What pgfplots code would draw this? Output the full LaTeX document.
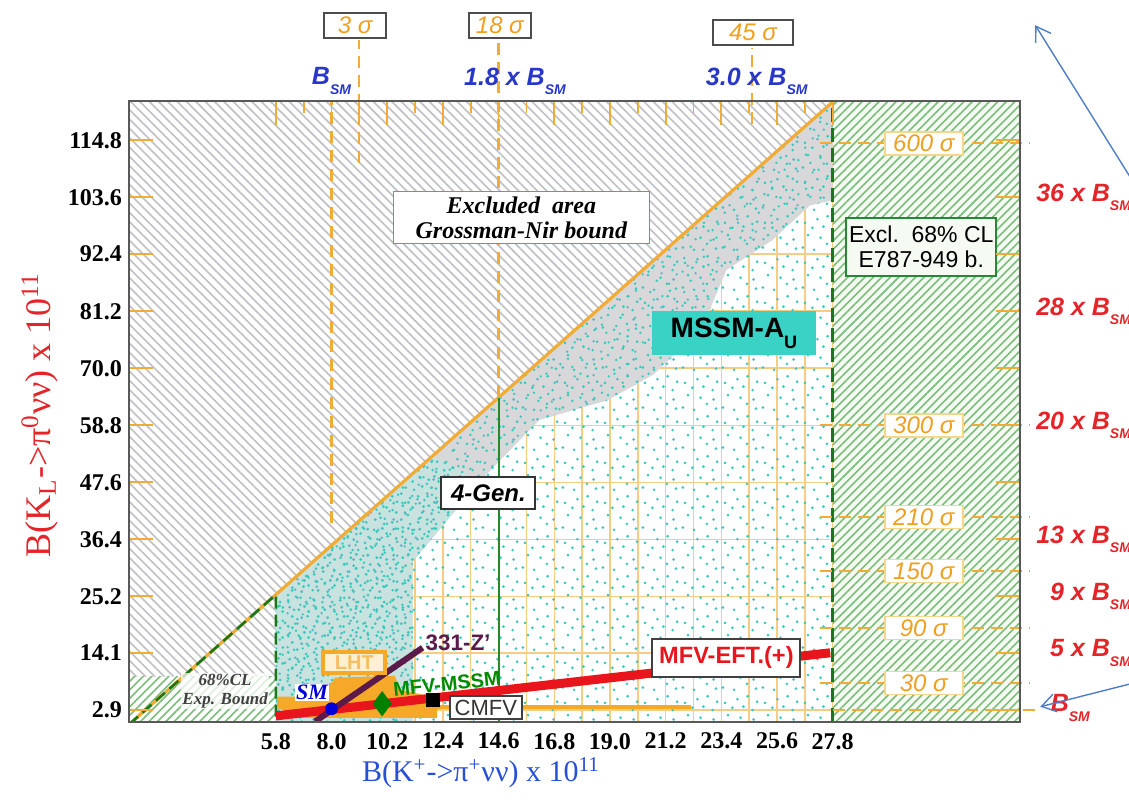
\documentclass[border=0pt]{standalone}
\usepackage{fontspec}
\setmainfont{Liberation Serif}
\setsansfont{Liberation Sans}
\usepackage{pgfplots}
\pgfplotsset{compat=1.18}
\usetikzlibrary{patterns.meta,arrows.meta}

\definecolor{cyandot}{RGB}{62,199,189}
\definecolor{gband}{RGB}{216,216,218}
\definecolor{densebg}{RGB}{200,226,224}
\definecolor{hatchgray}{RGB}{192,192,197}
\definecolor{hatchgreen}{RGB}{122,190,122}
\definecolor{greenbg}{RGB}{245,250,243}
\definecolor{dgreen}{RGB}{25,120,25}
\definecolor{gengreen}{RGB}{40,135,40}
\definecolor{gridorange}{RGB}{248,205,130}
\definecolor{lineorange}{RGB}{240,172,55}
\definecolor{sigorange}{RGB}{240,160,30}
\definecolor{sigborder}{RGB}{245,215,140}
\definecolor{lhtorange}{RGB}{246,168,40}
\definecolor{mfvred}{RGB}{232,22,28}
\definecolor{zpurple}{RGB}{92,26,74}
\definecolor{labred}{RGB}{228,36,40}
\definecolor{labblue}{RGB}{40,80,215}
\definecolor{topblue}{RGB}{40,55,200}
\definecolor{msscyan}{RGB}{58,210,196}
\definecolor{arrowblue}{RGB}{80,125,200}
\definecolor{gnborder}{RGB}{222,100,110}
\definecolor{exclgreen}{RGB}{40,135,55}

\newcommand{\sbs}[2][7]{\raisebox{-0.38em}{\fontsize{#1}{#1}\selectfont #2}}

\tikzdeclarepattern{name=dotsA,type=uncolored,
  bounding box={(0pt,0pt) and (20pt,20pt)},tile size={(20pt,20pt)},
  code={\foreach \x/\y in {1.5/2.3,7.2/1.1,13.8/4.2,18.4/1.7,4.1/8.6,10.5/7.3,16.7/11.2,2.6/14.9,8.9/16.8,14.1/18.3,19.0/15.5,6.3/12.4,12.0/13.0,17.2/6.4}{\fill (\x pt,\y pt) circle (0.75pt);}}}
\tikzdeclarepattern{name=dotsB,type=uncolored,
  bounding box={(0pt,0pt) and (17pt,17pt)},tile size={(17pt,17pt)},
  code={\foreach \x/\y in {2.2/5.1,8.4/3.0,14.6/1.6,5.5/10.9,11.9/9.4,15.8/14.2,1.3/15.6,8.0/14.8,12.3/5.8,4.0/1.2}{\fill (\x pt,\y pt) circle (0.7pt);}}}
\tikzdeclarepattern{name=dotsC,type=uncolored,
  bounding box={(0pt,0pt) and (13pt,13pt)},tile size={(13pt,13pt)},
  code={\foreach \x/\y in {1.1/1.9,5.8/3.3,10.4/1.0,3.2/7.0,8.1/6.4,11.7/9.6,1.9/11.8,6.6/10.5,9.5/12.2}{\fill (\x pt,\y pt) circle (0.8pt);}}}

\tikzset{
  rlab/.style={anchor=east,text=labred,font=\sffamily\bfseries\itshape\fontsize{12.5}{14}\selectfont,inner sep=0pt},
  tlab/.style={text=topblue,font=\sffamily\bfseries\itshape\fontsize{12.5}{14}\selectfont,inner sep=0pt},
  sigbox/.style={draw=sigborder,fill=white,text=sigorange,font=\sffamily\itshape\fontsize{12}{13}\selectfont,minimum width=39pt,minimum height=11.5pt,inner sep=1pt,line width=0.8pt},
  topsig/.style={draw=black!70,fill=white,text=sigorange,font=\sffamily\itshape\fontsize{12}{13}\selectfont,minimum height=12.5pt,inner sep=1pt,line width=0.9pt},
  sigdash/.style={lineorange,line width=1.1pt,dash pattern=on 6pt off 3.5pt},
}

\begin{document}
\begin{tikzpicture}
\useasboundingbox (-64.5pt,-44.5pt) rectangle (500pt,361pt);
\begin{axis}[
  scale only axis, width=445.5pt, height=310.5pt,
  xmin=0, xmax=35.2, ymin=0.5, ymax=122.5,
  clip mode=individual,
  axis background/.style={fill=white},
  axis line style={draw=none},
  xtick={5.8,8.0,10.2,12.4,14.6,16.8,19.0,21.2,23.4,25.6,27.8},
  xticklabels={5.8,8.0,10.2,12.4,14.6,16.8,19.0,21.2,23.4,25.6,27.8},
  ytick={2.9,14.1,25.2,36.4,47.6,58.8,70.0,81.2,92.4,103.6,114.8},
  yticklabels={2.9,14.1,25.2,36.4,47.6,58.8,70.0,81.2,92.4,103.6,114.8},
  minor x tick num=1, minor y tick num=1,
  grid=both,
  major grid style={gridorange,line width=0.75pt},
  minor grid style={gridorange,line width=0.75pt},
  major tick length=0pt, minor tick length=0pt,
  ticklabel style={font=\fontsize{12}{14}\selectfont\bfseries,text=black},
  xticklabel style={yshift=-2pt},
  xlabel={\fontsize{15}{18}\selectfont B(K\textsuperscript{+}->π\textsuperscript{+}νν) x 10\textsuperscript{11}},
  xlabel style={text=labblue,at={(axis description cs:0.395,-0.082)},anchor=center},
  ylabel={\fontsize{18}{21}\selectfont B(K\textsubscript{L}->π\textsuperscript{0}νν) x 10\textsuperscript{11}},
  ylabel style={text=labred,at={(axis description cs:-0.1,0.494)},anchor=center},
]
% excluded (Grossman-Nir) hatched area
\addplot[draw=none,fill=white,postaction={pattern={Lines[angle=-45,distance=3.3pt,line width=0.8pt]},pattern color=hatchgray}]
  coordinates {(0,9.4) (0,122.5) (27.84,122.5) (5.8,25.52) (5.8,9.4)} -- cycle;
% experimental bound strip
\addplot[draw=none,fill=white,postaction={pattern={Lines[angle=45,distance=3pt,line width=0.8pt]},pattern color=hatchgreen}]
  coordinates {(0,0.5) (0,9.4) (5.8,9.4) (5.8,0.5)} -- cycle;
% E787/949 excluded region
\addplot[draw=none,fill=greenbg,postaction={pattern={Lines[angle=45,distance=3pt,line width=0.8pt]},pattern color=hatchgreen}]
  coordinates {(27.8,0.5) (27.8,122.5) (35.2,122.5) (35.2,0.5)} -- cycle;
% gray band
\addplot[draw=none,fill=gband]
  coordinates {(5.8,0.5) (5.8,25.52) (27.8,122.32) (27.8,103) (26.9,102) (25.4,95.1) (23.6,89.3) (22.6,77.5) (20.7,68.7) (18.9,63.7) (16.2,59.8) (13.9,48) (11.2,32) (11.2,0.5)} -- cycle;
% dense region
\addplot[draw=none,fill=densebg]
  coordinates {(5.8,0.5) (5.8,25.52) (12.0,52.8) (13.9,48) (11.2,32) (11.2,0.5)} -- cycle;
% scatter textures
\addplot[draw=none,pattern=dotsA,pattern color=cyandot]
  coordinates {(5.8,0.5) (5.8,25.52) (27.8,122.32) (27.8,0.5)} -- cycle;
\addplot[draw=none,pattern=dotsB,pattern color=cyandot]
  coordinates {(5.8,0.5) (5.8,25.52) (27.8,122.32) (27.8,103) (26.9,102) (25.4,95.1) (23.6,89.3) (22.6,77.5) (20.7,68.7) (18.9,63.7) (16.2,59.8) (13.9,48) (11.2,32) (11.2,0.5)} -- cycle;
\addplot[draw=none,pattern=dotsC,pattern color=cyandot]
  coordinates {(5.8,0.5) (5.8,25.52) (12.0,52.8) (13.9,48) (11.2,32) (11.2,0.5)} -- cycle;
% boundaries
\addplot[lineorange,line width=1.6pt] coordinates {(0,0) (27.85,122.54)};
\addplot[dgreen,line width=1.3pt,dash pattern=on 6pt off 3pt] coordinates {(0,0) (5.8,25.52) (5.8,0.5)};
\addplot[dgreen,line width=1.3pt,dash pattern=on 7pt off 3pt] coordinates {(27.8,0.5) (27.8,122.5)};
\addplot[gengreen,line width=1pt] coordinates {(14.6,0.5) (14.6,64.24)};
% LHT region
\addplot[draw=none,fill=lhtorange]
  coordinates {(5.85,3.3) (5.85,5.5) (7.62,5.5) (8.14,9.2) (10.5,9.6) (10.7,6.8) (12.16,5.3) (12.16,1.3) (6.75,1.3)} -- cycle;
\addplot[lhtorange,line width=2pt] coordinates {(12.0,3.5) (22.2,3.5)};
% MFV-EFT line and 331-Z'
\addplot[mfvred,line width=4.5pt] coordinates {(5.8,1.7) (27.7,14.1)};
\addplot[zpurple,line width=3pt] coordinates {(7.35,0.6) (11.6,15.1)};
% model points
\addplot[only marks,mark=*,mark size=3pt,color=blue!85!black] coordinates {(8.0,3.1)};
\addplot[only marks,mark=diamond*,mark size=6pt,color=green!50!black] coordinates {(10.0,4.1)};
\addplot[only marks,mark=square*,mark size=3.3pt,color=black] coordinates {(12.0,4.8)};

% reference lines
\draw[sigdash] (axis cs:8.0,39.6) -- (axis cs:8.0,122.5);
\draw[sigdash] (axis cs:9.1,110.3) -- (axis cs:9.1,134.4);
\draw[sigdash] (axis cs:14.6,64.3) -- (axis cs:14.6,134.4);
\draw[sigdash] (axis cs:24.6,118) -- (axis cs:24.6,133);
\draw[sigdash] (axis cs:27.3,114.2) -- (axis cs:35.6,114.2);
\draw[sigdash] (axis cs:27.3,58.8) -- (axis cs:35.6,58.8);
\draw[sigdash] (axis cs:27.3,40.8) -- (axis cs:35.6,40.8);
\draw[sigdash] (axis cs:27.3,30.2) -- (axis cs:35.6,30.2);
\draw[sigdash] (axis cs:27.3,19.0) -- (axis cs:35.6,19.0);
\draw[sigdash] (axis cs:27.3,8.2) -- (axis cs:35.6,8.2);
\draw[sigdash] (axis cs:27.8,2.9) -- (axis cs:36.0,2.9);

% annotation boxes
\node[draw=gnborder,fill=white,line width=0.8pt,minimum width=128pt,minimum height=26pt,align=center,inner sep=1pt,
  font=\fontsize{12}{12.5}\selectfont\bfseries\itshape] at (axis cs:15.5,99.6) {Excluded~~area\\Grossman-Nir bound};
\node[draw=exclgreen,fill=greenbg,line width=1pt,minimum width=75pt,minimum height=29pt,align=center,inner sep=1pt,
  font=\sffamily\fontsize{11.5}{12.5}\selectfont] at (axis cs:31.3,93.8) {Excl.~~68\% CL\\E787-949 b.};
\node[fill=msscyan,minimum width=82pt,minimum height=22pt,inner sep=1pt,
  font=\sffamily\bfseries\fontsize{14}{15}\selectfont] at (axis cs:23.9,76.9) {MSSM-A\sbs[9]{U}};
\node[draw=black!80,fill=white,line width=1pt,minimum width=47pt,minimum height=16pt,inner sep=1pt,
  font=\sffamily\bfseries\itshape\fontsize{12}{13}\selectfont] at (axis cs:14.2,45.5) {4-Gen.};
\node[draw=black!75,fill=white,line width=1pt,minimum width=36pt,minimum height=11.5pt,inner sep=1pt,text=black!80,
  font=\sffamily\fontsize{11}{12}\selectfont] at (axis cs:14.1,3.3) {CMFV};
\node[draw=black!75,fill=white,line width=1pt,minimum width=74pt,minimum height=19pt,inner sep=1pt,text=mfvred,
  font=\sffamily\bfseries\fontsize{11.8}{12.5}\selectfont] at (axis cs:23.6,13.1) {MFV-EFT.(+)};
\node[text=zpurple,font=\sffamily\bfseries\fontsize{11.2}{12}\selectfont,inner sep=0pt] at (axis cs:13.0,16.0) {331-Z'};
\node[text=green!55!black,rotate=6,font=\sffamily\bfseries\fontsize{10}{11}\selectfont,inner sep=0pt] at (axis cs:12.56,8.0) {MFV-MSSM};
\node[fill=white,text=blue!85!black,font=\bfseries\itshape\fontsize{11}{12}\selectfont,inner sep=0.5pt] at (axis cs:7.23,6.3) {SM};
\node[draw=lhtorange,fill={rgb,255:red,255;green,240;blue,210},line width=2pt,minimum width=31pt,minimum height=10.5pt,inner sep=0.5pt,
  text={rgb,255:red,246;green,190;blue,100},font=\sffamily\bfseries\fontsize{10}{11}\selectfont] at (axis cs:8.9,12.1) {LHT};
\node[fill=white,fill opacity=0.75,text opacity=1,align=center,inner sep=0.5pt,text=black!75,
  font=\bfseries\itshape\fontsize{8.5}{9.5}\selectfont] at (axis cs:3.8,6.6) {68\%CL\\Exp. Bound};

% sigma boxes (right)
\node[sigbox] at (axis cs:31.4,114.2) {600 σ};
\node[sigbox] at (axis cs:31.4,58.8) {300 σ};
\node[sigbox] at (axis cs:31.4,40.8) {210 σ};
\node[sigbox] at (axis cs:31.4,30.2) {150 σ};
\node[sigbox] at (axis cs:31.4,19.0) {90 σ};
\node[sigbox] at (axis cs:31.4,8.2) {30 σ};

% sigma boxes (top)
\node[topsig,minimum width=31pt] at (axis cs:8.93,137.4) {3 σ};
\node[topsig,minimum width=31pt] at (axis cs:14.65,137.4) {18 σ};
\node[topsig,minimum width=40pt] at (axis cs:24.65,136.0) {45 σ};
\node[tlab] at (axis cs:8.0,126.4) {B\sbs{SM}};
\node[tlab] at (axis cs:15.25,126.4) {1.8 x B\sbs{SM}};
\node[tlab] at (axis cs:24.8,126.4) {3.0 x B\sbs{SM}};

% right labels
\node[rlab] at (axis cs:39.6,103.6) {36 x B\sbs{SM}};
\node[rlab] at (axis cs:39.6,81.2) {28 x B\sbs{SM}};
\node[rlab] at (axis cs:39.6,58.8) {20 x B\sbs{SM}};
\node[rlab] at (axis cs:39.6,36.4) {13 x B\sbs{SM}};
\node[rlab] at (axis cs:39.6,25.2) {9 x B\sbs{SM}};
\node[rlab] at (axis cs:39.6,14.1) {5 x B\sbs{SM}};
\node[rlab,anchor=west] at (axis cs:36.4,3.3) {B\sbs{SM}};

% arrows
\draw[arrowblue,line width=0.7pt,-{Straight Barb[length=7pt,width=9pt]}] (axis cs:40.2,102.4) -- (axis cs:35.8,137.4);
\draw[arrowblue,line width=0.7pt,-{Straight Barb[length=7pt,width=9pt]}] (axis cs:40.2,8.8) -- (axis cs:36.0,3.5);
\end{axis}

% overlay axis: ticks and frame on top
\begin{axis}[
  scale only axis, width=445.5pt, height=310.5pt,
  xmin=0, xmax=35.2, ymin=0.5, ymax=122.5,
  xtick={5.8,8.0,10.2,12.4,14.6,16.8,19.0,21.2,23.4,25.6,27.8},
  ytick={2.9,14.1,25.2,36.4,47.6,58.8,70.0,81.2,92.4,103.6,114.8},
  minor x tick num=1, minor y tick num=1,
  xticklabels={}, yticklabels={},
  xtick pos=right,
  tick align=inside,
  tick style={lineorange,line width=0.9pt},
  major tick length=12pt, minor tick length=6pt,
  axis line style={black!65,line width=0.9pt},
]
\end{axis}
\end{tikzpicture}
\end{document}
